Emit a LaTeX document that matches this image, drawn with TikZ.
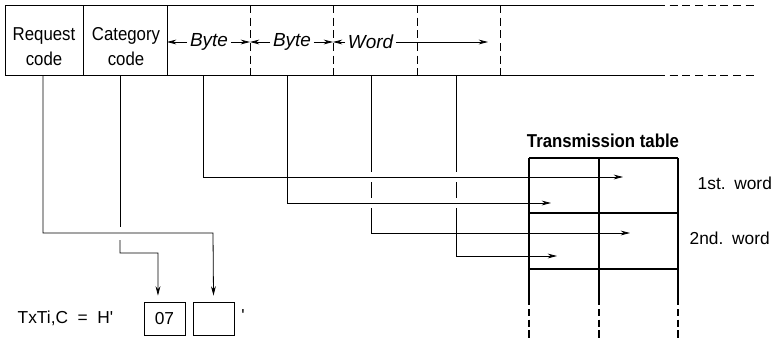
\documentclass[tikz,border=0pt]{standalone}
\usepackage{fontspec}
\setmainfont{Liberation Sans}
\newfontfamily\narrowfont{Liberation Sans}[FakeStretch=0.9]
\usetikzlibrary{arrows.meta, calc}

\begin{document}
\begin{tikzpicture}[x=0.75pt, y=-0.75pt,
	font=\fontsize{13}{19.5}\selectfont,
	wire/.style={line width=0.6pt},
	conn/.style={wire, -{Stealth[length=7pt, width=3.6pt]}},
	dsh/.style={wire, dash pattern=on 6pt off 3.5pt},
	tbl/.style={line width=1.2pt},
	head/.style={align=center, font=\narrowfont\fontsize{14}{19}\selectfont},
	lbl/.style={font=\itshape\fontsize{14.2}{17}\selectfont, inner sep=2pt},
	cell/.style={draw, line width=0.6pt, minimum width=30.75pt, minimum height=24.75pt, inner sep=0pt}]
	\useasboundingbox (0,0) rectangle (778,340);
	% command frame
	\draw[wire] (657,5) -- (5,5) -- (5,75) -- (657,75);
	\draw[dsh] (657,5) -- (757,5);
	\draw[dsh] (657,75) -- (757,75);
	\foreach \x in {83,167} \draw[wire] (\x,5) -- (\x,75);
	\foreach \x in {250,333,417,500} \draw[dsh] (\x,5) -- (\x,75);
	\node[head] (req) at (44,46.5) {Request\\code};
	\node[head] (cat) at (126,46.5) {Category\\code};
	\node[lbl] (byteA) at (209,42) {Byte};
	\node[lbl] (byteB) at (292,42) {Byte};
	\node[lbl, anchor=west] (word) at (345,42) {Word};
	\draw[conn] (byteA.west) -- (167,42);
	\draw[conn] (byteA.east) -- (250,42);
	\draw[conn] (byteB.west) -- (250,42);
	\draw[conn] (byteB.east) -- (333,42);
	\draw[conn] (word.west) -- (333,42);
	\draw[conn] (word.east) -- (488,42);
	\foreach \n/\x in {1/43,2/120,3/203,4/287,5/371,6/456}
		\coordinate (s\n) at (\x,75);
	% transmission table
	\draw[tbl] (529,158) -- (678,158);
	\foreach \y in {213,269} \draw[tbl] (529,\y) -- (678,\y);
	\foreach \x in {529,599,678} {
		\draw[tbl] (\x,158) -- (\x,305);
		\draw[tbl, dash pattern=on 5.5pt off 2.5pt] (\x,309) -- (\x,340);
	}
	\node[font=\bfseries\narrowfont\fontsize{14}{16}\selectfont] (title) at (603,141) {Transmission table};
	\node[anchor=west] (w1) at (693,183) {1st.\hspace{0.5em}word};
	\node[anchor=west] (w2) at (685,238) {2nd.\hspace{0.5em}word};
	\coordinate (t1) at (623,177);
	\coordinate (t2) at (551,203);
	\coordinate (t3) at (630,233);
	\coordinate (t4) at (557,256);
	\draw[conn] (s3) |- (t1);
	\draw[conn] (s4) |- (t2);
	\draw[wire] (s5) -- (371,172) (371,182) -- (371,198);
	\draw[conn] (371,208) |- (t3);
	\draw[wire] (s6) -- (456,172) (456,182) -- (456,198);
	\draw[conn] (456,208) |- (t4);
	% TxTi,C
	\node[anchor=west] (txt) at (13,318) {TxTi,C\ \ =\ \ H\textquotesingle};
	\node[cell] (box1) at (164.5,318.5) {07};
	\node[cell] (box2) at (213.5,318.5) {};
	\node (quote) at (243,316) {\textquotesingle};
	\draw[conn] (s1) |- (213,233) -- ([yshift=4.5pt]box2.north);
	\draw[wire] (s2) -- (120,227);
	\draw[conn] (120,240) |- (158,253) -- ([xshift=-4.9pt, yshift=4.5pt]box1.north);
\end{tikzpicture}
\end{document}
